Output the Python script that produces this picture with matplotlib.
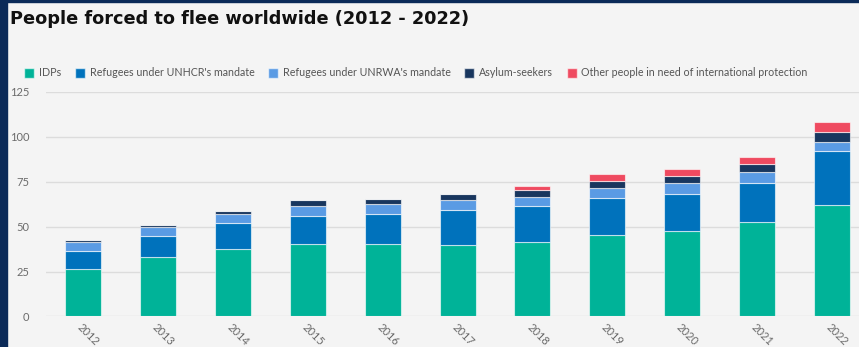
import numpy as np
import matplotlib.pyplot as plt
from matplotlib.lines import Line2D
from matplotlib.patches import Rectangle

# values in millions
years = ['2012', '2013', '2014', '2015', '2016', '2017', '2018', '2019', '2020', '2021', '2022']
idps = [26.4, 32.9, 37.5, 40.1, 40.1, 39.5, 41.4, 45.5, 47.7, 52.7, 62.1]
unhcr = [10.2, 11.6, 14.3, 15.9, 16.8, 20.0, 19.8, 20.2, 20.4, 21.3, 29.7]
unrwa = [4.9, 5.1, 5.1, 5.4, 5.5, 5.4, 5.5, 5.5, 5.9, 6.1, 5.3]
asylum = [1.0, 1.2, 1.7, 3.2, 2.8, 3.0, 3.5, 4.2, 4.4, 4.6, 5.4]
other = [0, 0, 0, 0, 0, 0, 2.6, 3.8, 3.7, 4.1, 5.4]

series = [idps, unhcr, unrwa, asylum, other]
names = ['IDPs', "Refugees under UNHCR's mandate", "Refugees under UNRWA's mandate",
         'Asylum-seekers', 'Other people in need of international protection']
colors = ['#00b398', '#0072bc', '#5a9be4', '#18365e', '#ef4a60']

plt.rcParams['font.family'] = ['Lato', 'DejaVu Sans']

fig = plt.figure(figsize=(8.59, 3.47), dpi=100, facecolor='#f4f4f4')
ax = fig.add_axes([0.0536, 0.0879, 0.9464, 0.6478])
ax.set_facecolor('#f4f4f4')

# dark frame on the left and top
fig.patches.append(Rectangle((0, 0), 7 / 859, 1, transform=fig.transFigure,
                             color='#0b2a58', zorder=10))
fig.patches.append(Rectangle((0, 1 - 2 / 347), 1, 2 / 347, transform=fig.transFigure,
                             color='#0b2a58', zorder=10))

x = np.arange(len(years))
bottom = np.zeros(len(years))
for vals, name, c in zip(series, names, colors):
    vals = np.array(vals)
    ax.bar(x, vals, 0.48, bottom=bottom, color=c, edgecolor=(1, 1, 1, 0.6),
           linewidth=0.8, zorder=3, label=name)
    bottom += vals

ax.set_ylim(0, 125)
ax.set_xlim(-0.494, 10.36)
ax.set_yticks([0, 25, 50, 75, 100, 125])
ax.grid(axis='y', color='#dcdcdc', linewidth=1, zorder=0)
for s in ax.spines.values():
    s.set_visible(False)
ax.tick_params(axis='y', length=0, pad=12, labelsize=8, labelcolor='#6b6b6b')
ax.tick_params(axis='x', length=0, pad=4, labelsize=8, labelcolor='#6b6b6b')
ax.set_xticks(x)
ax.set_xticklabels(years, rotation=-45, ha='left', va='top', rotation_mode='anchor')

handles = [Line2D([], [], marker='s', linestyle='none', markersize=7.5,
                  markerfacecolor=c, markeredgecolor=(1, 1, 1, 0.6)) for c in colors]
fig.legend(handles, names, ncol=5, loc='center left', bbox_to_anchor=(0.018, 0.79),
           frameon=False, fontsize=7.7, labelcolor='#555555', handlelength=0.8,
           handletextpad=0.5, columnspacing=1.35)

fig.text(0.012, 0.945, 'People forced to flee worldwide (2012 - 2022)', fontsize=12.8,
         fontweight='bold', family='DejaVu Sans', color='#111111', va='center')

fig.savefig('out.png', dpi=100, facecolor=fig.get_facecolor())
